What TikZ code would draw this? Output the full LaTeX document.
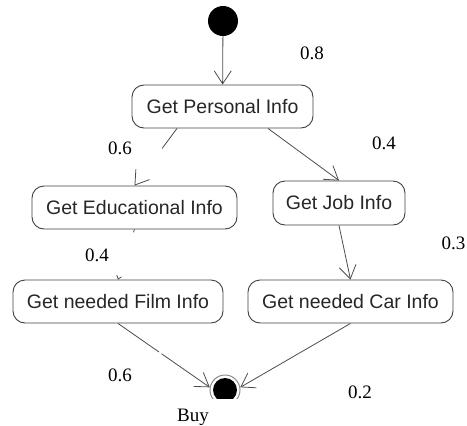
\documentclass[tikz,border=0pt]{standalone}
\usepackage{fontspec}
\setmainfont{Liberation Serif}
\setsansfont{Liberation Sans}
\usetikzlibrary{arrows.meta,calc}
\begin{document}
\begin{tikzpicture}[x=1pt,y=-1pt,
  act/.style={draw=black!75, rounded corners=12pt, line width=0.9pt,
    font=\sffamily\fontsize{19.5}{22}\selectfont, inner sep=0pt, text=black!85},
  arr/.style={draw=black!70, line width=0.8pt, -{Straight Barb[length=13pt,width=17pt]}},
  smallarr/.style={draw=black!70, line width=0.8pt, -{Straight Barb[length=3pt,width=5pt]}},
  prob/.style={font=\fontsize{19}{22}\selectfont, inner sep=0pt}]
\useasboundingbox (0,0) rectangle (467,426);

\node[circle, fill=black, minimum size=30pt, inner sep=0pt] (init) at (223,21) {};
\node[act, minimum width=181pt, minimum height=43pt] (pers) at (222.5,106.5) {Get Personal Info};
\node[act, minimum width=205pt, minimum height=43pt] (edu) at (134.5,207.5) {Get Educational Info};
\node[act, minimum width=132pt, minimum height=44pt] (job) at (339,203) {Get Job Info};
\node[act, minimum width=210pt, minimum height=43pt] (film) at (118,301.5) {Get needed Film Info};
\node[act, minimum width=205pt, minimum height=43pt] (car) at (350.5,301.5) {Get needed Car Info};

\begin{scope}
  \clip (150,360) rectangle (300,398);
  \node[circle, draw=black!45, line width=1pt, minimum size=30pt, inner sep=0pt] (fin) at (225,390) {};
  \fill[black] (fin.center) circle (12pt);
\end{scope}

\draw[arr] (init) -- (pers);
\draw[arr, dash pattern=on 25pt off 200pt] ([xshift=-45.5pt]pers.south) -- (edu.north);
\draw[arr] ([xshift=45.5pt]pers.south) -- (job.north);
\draw[arr] (job.south) -- (car.north);
\draw[smallarr, dash pattern=on 3pt off 200pt] (edu.south) -- (film.north);
\draw[arr, dash pattern=on 50pt off 3pt on 300pt] (film.south) -- (fin.170);
\draw[arr] (car.south) -- (fin.10);

\node[prob] (p1) at (312,53) {0.8};
\node[prob] (p2) at (120,148) {0.6};
\node[prob] (p3) at (384,143) {0.4};
\node[prob] (p4) at (97,255) {0.4};
\node[prob] (p5) at (453.5,243) {0.3};
\node[prob] (p6) at (120,375) {0.6};
\node[prob] (p7) at (360,392) {0.2};
\node[prob, font=\fontsize{19}{22}\selectfont] (buy) at (193,417) {Buy};
\end{tikzpicture}
\end{document}
